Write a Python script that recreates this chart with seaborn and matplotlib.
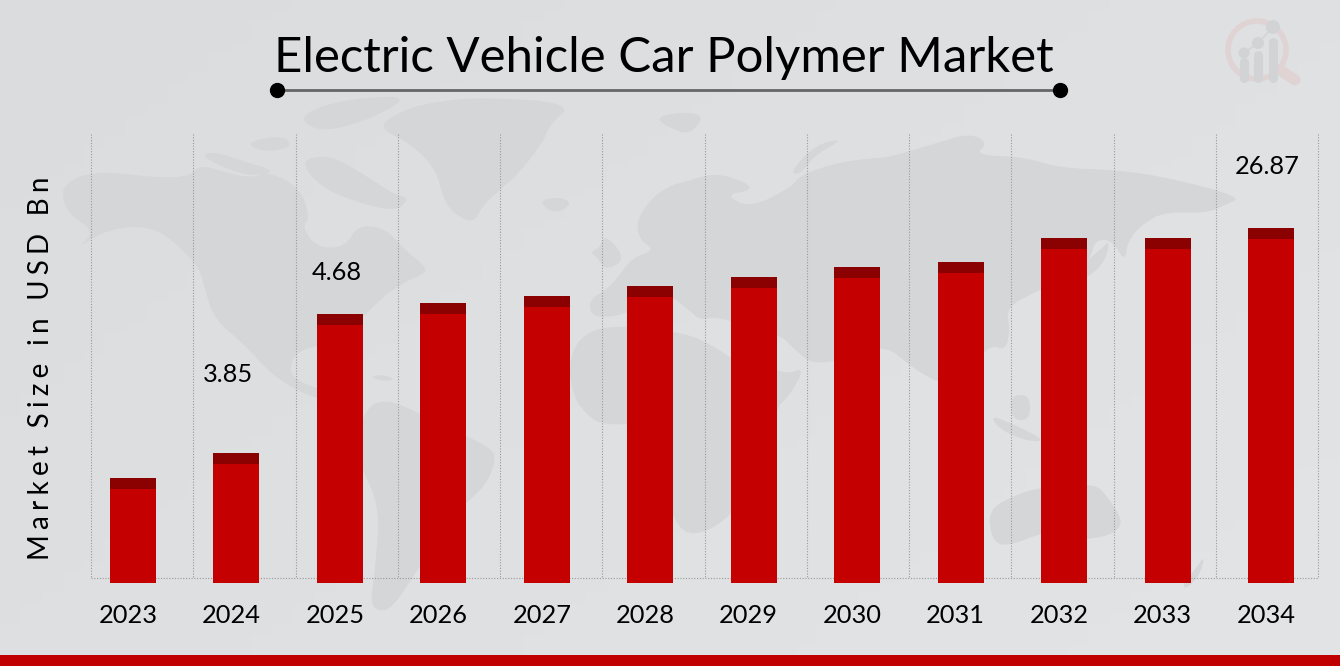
import numpy as np
import pandas as pd
import seaborn as sns
import matplotlib.pyplot as plt
from matplotlib.colors import LinearSegmentedColormap
from matplotlib.patches import Circle, Polygon
from matplotlib.transforms import ScaledTranslation

years = ['2023', '2024', '2025', '2026', '2027', '2028', '2029', '2030', '2031', '2032', '2033', '2034']
# bar heights as drawn (the picture has no y scale, only three printed labels)
bar_heights = [105, 130, 269, 280, 287, 297, 306, 316, 321, 345, 345, 355]
labelled_values = ['3.85', '4.68', '26.87']

df = pd.DataFrame({'year': years, 'height': bar_heights})
df['body'] = df['height'] - 11

sns.set_theme(style='white')
plt.rcParams['font.family'] = ['Lato', 'DejaVu Sans']


def smooth(points, rounds=2):
    # corner cutting so the land outlines are not so angular
    pts = np.array(points, dtype=float)
    for _ in range(rounds):
        nxt = np.roll(pts, -1, axis=0)
        pts = np.column_stack([0.75 * pts + 0.25 * nxt, 0.25 * pts + 0.75 * nxt]).reshape(-1, 2)
    return pts


fig = plt.figure(figsize=(13.4, 6.66), dpi=100)

# background layer in pixel coordinates
bg = fig.add_axes([0, 0, 1, 1], zorder=0)
bg.set_xlim(0, 1340)
bg.set_ylim(666, 0)
bg.axis('off')
grad = np.linspace(0, 1, 64)[None, :] * 0.6 + np.linspace(0, 1, 64)[:, None] * 0.4
bg.imshow(grad, extent=[0, 1340, 666, 0], aspect='auto',
          cmap=LinearSegmentedColormap.from_list('bg', ['#dbdcde', '#e3e4e5']), zorder=0)

# world map backdrop
land = [
    # north america
    [(63, 187), (80, 175), (110, 172), (160, 178), (190, 176), (200, 165), (225, 172), (250, 178), (270, 172),
     (300, 188), (310, 217), (302, 228), (318, 248), (345, 247), (358, 225), (385, 228), (405, 250), (420, 262),
     (428, 272), (405, 282), (385, 295), (368, 312), (345, 335), (320, 345), (296, 352), (288, 372), (305, 385),
     (335, 392), (352, 405), (335, 402), (305, 395), (272, 375), (245, 345), (215, 320), (205, 290), (200, 270),
     (188, 255), (160, 230), (130, 226), (103, 232), (77, 248), (95, 232), (70, 215), (63, 200)],
    # greenland
    [(377, 127), (400, 112), (427, 103), (480, 97), (573, 103), (550, 125), (543, 142), (520, 172), (500, 190),
     (483, 205), (473, 224), (452, 212), (443, 197), (436, 170), (413, 145)],
    # arctic islands
    [(200, 155), (215, 152), (240, 160), (278, 172), (250, 176), (225, 168)],
    [(300, 160), (330, 155), (365, 175), (395, 195), (410, 198), (395, 212), (350, 200), (318, 185)],
    [(300, 115), (340, 100), (410, 95), (380, 115), (335, 130), (310, 128)],
    [(245, 142), (285, 135), (292, 148), (262, 152)],
    # iceland, uk, cuba
    [(540, 200), (560, 197), (572, 203), (560, 212), (547, 210)],
    [(590, 252), (600, 248), (604, 235), (620, 250), (622, 262), (605, 270), (598, 258)],
    [(370, 376), (385, 375), (396, 380), (380, 381)],
    # south america
    [(367, 407), (385, 400), (407, 407), (440, 425), (493, 448), (495, 462), (487, 483), (470, 500), (457, 510),
     (440, 530), (427, 557), (412, 578), (398, 600), (385, 612), (370, 607), (375, 570), (380, 507), (360, 465),
     (358, 435)],
    # eurasia
    [(636, 222), (650, 200), (667, 187), (690, 180), (716, 173), (745, 182), (752, 190), (725, 195), (750, 208),
     (792, 187), (800, 175), (840, 162), (875, 158), (890, 157), (930, 145), (970, 133), (988, 143), (975, 155),
     (1024, 157), (1060, 168), (1117, 170), (1170, 178), (1242, 197), (1225, 205), (1207, 213), (1165, 212),
     (1144, 223), (1128, 240), (1125, 262), (1112, 240), (1095, 240), (1090, 260), (1073, 270), (1040, 290),
     (1006, 307), (1010, 330), (1006, 350), (990, 345), (975, 365), (965, 372), (939, 383), (925, 375), (912, 367),
     (885, 345), (850, 357), (830, 362), (810, 363), (790, 345), (783, 337), (745, 325), (716, 317), (700, 320),
     (689, 310), (670, 295), (640, 300), (625, 315), (592, 318), (589, 300), (606, 290), (618, 277), (632, 258),
     (655, 250), (640, 240)],
    # novaya zemlya, svalbard
    [(790, 172), (815, 145), (845, 138), (815, 155), (800, 175)],
    [(655, 118), (680, 112), (705, 115), (690, 135), (670, 128)],
    # africa
    [(569, 357), (585, 332), (620, 325), (685, 333), (712, 345), (738, 363), (760, 360), (785, 375), (805, 367),
     (790, 395), (774, 410), (778, 450), (755, 480), (730, 517), (700, 535), (678, 530), (660, 480), (649, 457),
     (645, 423), (610, 425), (591, 420), (572, 395)],
    # madagascar
    [(722, 448), (722, 425), (718, 455), (712, 445), (716, 462)],
    # south east asia islands, japan
    [(1040, 385), (1050, 370), (1058, 382), (1062, 400), (1052, 412), (1042, 400)],
    [(990, 415), (1015, 425), (1045, 440), (1030, 442), (1000, 430)],
    [(1010, 395), (1030, 395), (1030, 420), (1012, 420)],
    [(1075, 270), (1100, 250), (1110, 240), (1105, 262), (1085, 280)],
    # australia and new zealand
    [(988, 510), (1015, 495), (1042, 487), (1065, 490), (1095, 483), (1110, 500), (1122, 520), (1118, 530),
     (1104, 537), (1075, 540), (1050, 530), (1006, 547), (992, 540)],
    [(1195, 570), (1205, 555), (1200, 575), (1185, 590), (1183, 582)],
]
for shape in land:
    bg.add_patch(Polygon(smooth(shape), closed=True, fc='#d5d6d7', ec='none', zorder=1))

# dotted frame lines
for gx in np.linspace(91, 1318, 13):
    bg.plot([gx, gx], [134, 578], color='#999999', lw=0.8, ls=(0, (1, 1.5)), zorder=2)
bg.plot([91, 1318], [578, 578], color='#999999', lw=0.8, ls=(0, (1, 1.5)), zorder=2)

# logo
bg.add_patch(Circle((1257, 50), 29, fc='none', ec='#dfd3d4', lw=4, zorder=2))
bg.plot([1283, 1295], [72, 80], color='#dfd3d4', lw=8, solid_capstyle='round', zorder=2)
for bx, top, r, cy in [(1244, 62, 5.5, 53), (1258, 55, 6, 43), (1273, 42, 7, 27)]:
    bg.plot([bx, bx], [top, 78], color='#d2d3d4', lw=6.5, solid_capstyle='round', zorder=3)
    bg.add_patch(Circle((bx, cy), r, fc='#d2d3d4', ec='none', zorder=3))
bg.plot([1244, 1258, 1273], [53, 43, 27], color='#d2d3d4', lw=1, zorder=3)

# bottom strip
bg.fill_between([0, 1340], 655, 666, color='#c00000', lw=0, zorder=4)

# title and rule
bg.text(664, 58, 'Electric Vehicle Car Polymer Market', ha='center', va='center', fontsize=35.4,
        color='black', zorder=5)
bg.plot([277, 1060], [90, 90], color='#666666', lw=2, zorder=5)
bg.plot([277, 1060], [90, 90], 'o', color='black', ms=10, zorder=6)

# printed value labels
bg.text(228, 375, labelled_values[0], ha='center', va='center', fontsize=18.3, color='black', zorder=5)
bg.text(337, 272, labelled_values[1], ha='center', va='center', fontsize=18.3, color='black', zorder=5)
bg.text(1267, 166, labelled_values[2], ha='center', va='center', fontsize=18.3, color='black', zorder=5)

# bars
ax = fig.add_axes([81.3 / 1340, (666 - 583) / 666, (1322.7 - 81.3) / 1340, 448 / 666], zorder=1)
ax.patch.set_alpha(0)
sns.barplot(data=df, x='year', y='height', color='#8b0000', saturation=1, width=0.445, linewidth=0, ax=ax)
sns.barplot(data=df, x='year', y='body', color='#c40000', saturation=1, width=0.445, linewidth=0, ax=ax)
ax.set_xlim(-0.5, 11.5)
ax.set_ylim(0, 448)
ax.set_yticks([])
ax.set_xlabel('')
spaced = '\u200a\u200a\u200a'.join('Market Size in USD Bn')
ax.set_ylabel(spaced, fontsize=20, labelpad=0, color='black')
ax.yaxis.set_label_coords((54 - 81.3) / (1322.7 - 81.3), (583 - 368) / 448)
sns.despine(ax=ax, left=True, bottom=True)
ax.tick_params(axis='x', length=0, pad=15, labelsize=18.3, labelcolor='black')
shift = ScaledTranslation(-5 / 100, 0, fig.dpi_scale_trans)
for lab in ax.get_xticklabels():
    lab.set_transform(lab.get_transform() + shift)

fig.savefig('out.png', dpi=100)
